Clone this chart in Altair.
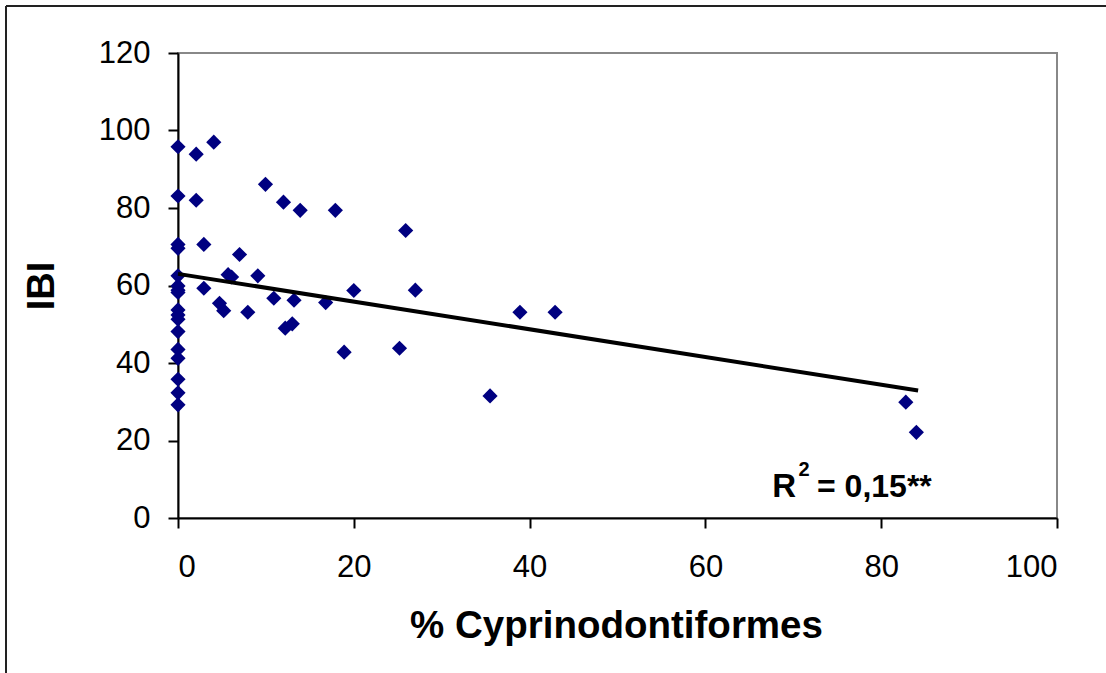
import altair as alt
import pandas as pd

# Scatter data (% Cyprinodontiformes vs IBI)
x_vals = [0, 0, 0, 0, 0, 0, 0, 0, 0, 0, 0, 0, 0, 0, 0, 0, 0,
          2.07, 4.07, 2.07, 9.95, 12.0, 13.9, 17.9, 2.94, 7.0, 5.7, 6.1, 9.08,
          2.94, 4.72, 5.2, 7.94, 10.9, 13.2, 12.2, 13.0, 16.8, 20.0, 18.9,
          25.9, 27.0, 25.2, 38.9, 42.9, 35.5, 82.8, 84.0]
y_vals = [95.8, 83.1, 70.6, 69.6, 62.5, 59.9, 58.8, 58.2, 53.7, 52.4, 51.3,
          48.1, 43.5, 41.2, 35.8, 32.3, 29.2,
          93.9, 97.0, 82.0, 86.1, 81.5, 79.4, 79.4, 70.6, 68.0, 62.8, 62.2, 62.5,
          59.3, 55.4, 53.5, 53.1, 56.7, 56.2, 49.0, 50.1, 55.6, 58.7, 42.8,
          74.2, 58.8, 43.8, 53.1, 53.1, 31.5, 29.9, 22.1]

# Trend line end points as drawn in the reference
trend_x = [0, 84.2]
trend_y = [63.0, 32.9]

x_ticks = [0, 20, 40, 60, 80, 100]
y_ticks = [0, 20, 40, 60, 80, 100, 120]

# Annotation pieces: text, x, y, font size
ann_text = ["R", "2", "= 0,15**"]
ann_x = [67.6, 70.6, 72.7]
ann_y = [5.4, 10.9, 5.4]
ann_size = [33, 20, 32]

FONT = "Liberation Sans"

pts = pd.DataFrame({"x": x_vals, "y": y_vals})
trend = pd.DataFrame({"x": trend_x, "y": trend_y})
ann = pd.DataFrame({"t": ann_text, "x": ann_x, "y": ann_y, "s": ann_size})

xscale = alt.Scale(domain=[0, 100], nice=False, zero=False)
yscale = alt.Scale(domain=[0, 120], nice=False, zero=False)

x_axis = alt.Axis(values=x_ticks, title="% Cyprinodontiformes", grid=False,
                  labelFontSize=31, labelBaseline="alphabetic", labelPadding=48,
                  tickSize=10, titleFontSize=38.5, titleFontWeight="bold",
                  titleBaseline="alphabetic", titleY=119, titleX=438,
                  titleAlign="center")
y_axis = alt.Axis(values=y_ticks, title="IBI", grid=False,
                  labelFontSize=31, labelPadding=18, tickSize=10,
                  titleFontSize=38, titleFontWeight="bold",
                  titleX=-136, titleY=232.5, titleAlign="center",
                  titleBaseline="middle", titleAngle=270)

points = alt.Chart(pts).mark_point(
    shape="diamond", filled=True, size=230, color="#000080", opacity=1
).encode(
    x=alt.X("x:Q", scale=xscale, axis=x_axis),
    y=alt.Y("y:Q", scale=yscale, axis=y_axis),
)

line = alt.Chart(trend).mark_line(color="black", strokeWidth=4).encode(
    x=alt.X("x:Q", scale=xscale),
    y=alt.Y("y:Q", scale=yscale),
)

texts = alt.Chart(ann).mark_text(
    font=FONT, fontWeight="bold", align="left", baseline="alphabetic", color="black"
).encode(
    x=alt.X("x:Q", scale=xscale),
    y=alt.Y("y:Q", scale=yscale),
    text="t:N",
    size=alt.Size("s:Q", scale=None, legend=None),
)

# Outer frame (top and left edges visible in the reference)
frame_top = alt.Chart(pts).mark_rule(color="#222222", strokeWidth=2).encode(
    x=alt.value(-172), x2=alt.value(940), y=alt.value(-47)
)
frame_left = alt.Chart(pts).mark_rule(color="#222222", strokeWidth=2).encode(
    x=alt.value(-172), y=alt.value(-47), y2=alt.value(625)
)

chart = alt.layer(frame_top, frame_left, points, line, texts).properties(
    width=879, height=465,
    autosize=alt.AutoSizeParams(type="none"),
    padding={"left": 178, "top": 53, "right": 49, "bottom": 155},
    background="white",
).configure_view(
    stroke="#888888", strokeWidth=2
).configure_axis(
    labelFont=FONT, titleFont=FONT, labelColor="black", titleColor="black",
    domainColor="black", domainWidth=2, tickColor="black", tickWidth=2,
)

chart.save("out.html", embed_options={"renderer": "svg", "actions": False})
